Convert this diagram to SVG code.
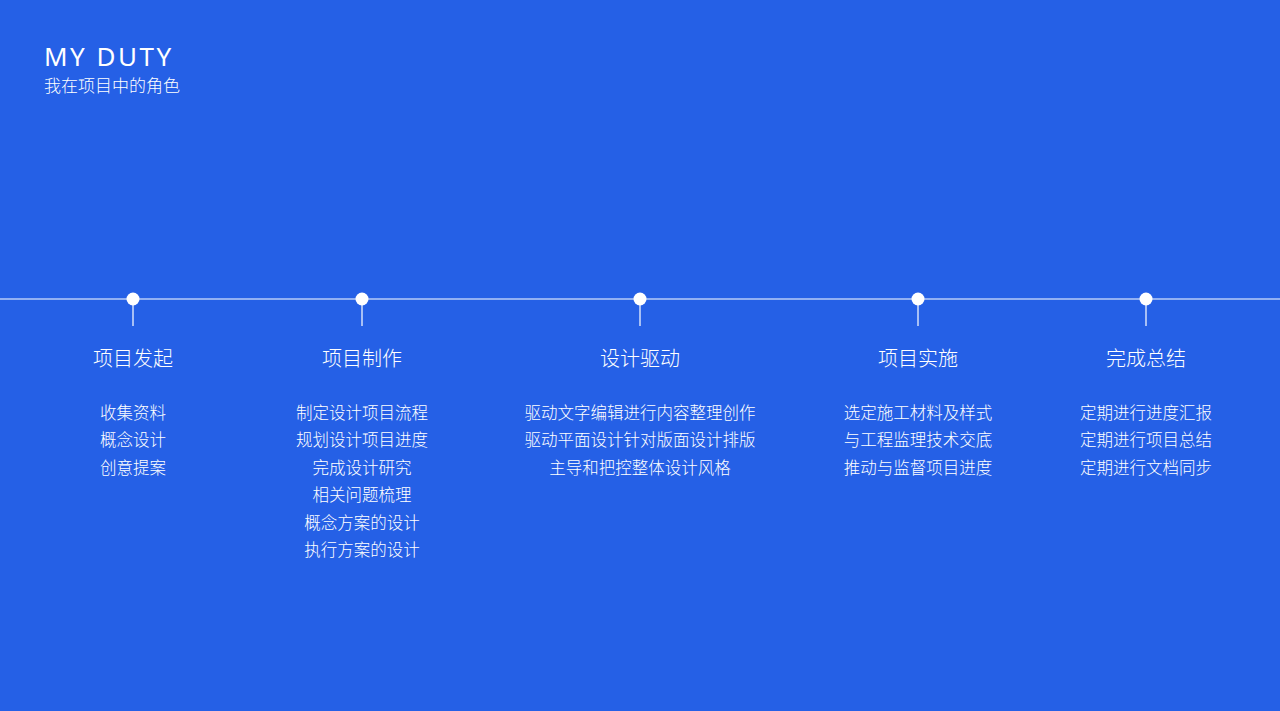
<svg xmlns="http://www.w3.org/2000/svg" width="1280" height="711" viewBox="0 0 1280 711">
<style>
text{font-family:"Noto Sans CJK SC","Noto Sans",sans-serif;fill:#fff}
.h{font-size:20px;text-anchor:middle;font-weight:300}
.i{font-size:16.5px;text-anchor:middle;font-weight:300}
.s{stroke:#fff;stroke-width:1.2}
</style>
<rect width="1280" height="711" fill="#2560E6"/>
<text x="44" y="66" font-family="Noto Sans" style="font-family:'Noto Sans',sans-serif;font-size:26px;letter-spacing:2.5px">MY DUTY</text>
<text x="44" y="92" style="font-size:17px;font-weight:300">我在项目中的角色</text>
<g id="connectors">
<line class="s" x1="0" y1="299" x2="1280" y2="299"/>
<line class="s" x1="133" y1="299" x2="133" y2="326"/>
<line class="s" x1="362" y1="299" x2="362" y2="326"/>
<line class="s" x1="640" y1="299" x2="640" y2="326"/>
<line class="s" x1="918" y1="299" x2="918" y2="326"/>
<line class="s" x1="1146" y1="299" x2="1146" y2="326"/>
</g>
<g id="n1"><circle cx="133" cy="299" r="6.5" fill="#fff"/><text class="h" x="133" y="366">项目发起</text>
<text class="i" x="133" y="419">收集资料</text><text class="i" x="133" y="446">概念设计</text><text class="i" x="133" y="474">创意提案</text></g>
<g id="n2"><circle cx="362" cy="299" r="6.5" fill="#fff"/><text class="h" x="362" y="366">项目制作</text>
<text class="i" x="362" y="419">制定设计项目流程</text><text class="i" x="362" y="446">规划设计项目进度</text><text class="i" x="362" y="474">完成设计研究</text><text class="i" x="362" y="501">相关问题梳理</text><text class="i" x="362" y="529">概念方案的设计</text><text class="i" x="362" y="556">执行方案的设计</text></g>
<g id="n3"><circle cx="640" cy="299" r="6.5" fill="#fff"/><text class="h" x="640" y="366">设计驱动</text>
<text class="i" x="640" y="419">驱动文字编辑进行内容整理创作</text><text class="i" x="640" y="446">驱动平面设计针对版面设计排版</text><text class="i" x="640" y="474">主导和把控整体设计风格</text></g>
<g id="n4"><circle cx="918" cy="299" r="6.5" fill="#fff"/><text class="h" x="918" y="366">项目实施</text>
<text class="i" x="918" y="419">选定施工材料及样式</text><text class="i" x="918" y="446">与工程监理技术交底</text><text class="i" x="918" y="474">推动与监督项目进度</text></g>
<g id="n5"><circle cx="1146" cy="299" r="6.5" fill="#fff"/><text class="h" x="1146" y="366">完成总结</text>
<text class="i" x="1146" y="419">定期进行进度汇报</text><text class="i" x="1146" y="446">定期进行项目总结</text><text class="i" x="1146" y="474">定期进行文档同步</text></g>
</svg>
